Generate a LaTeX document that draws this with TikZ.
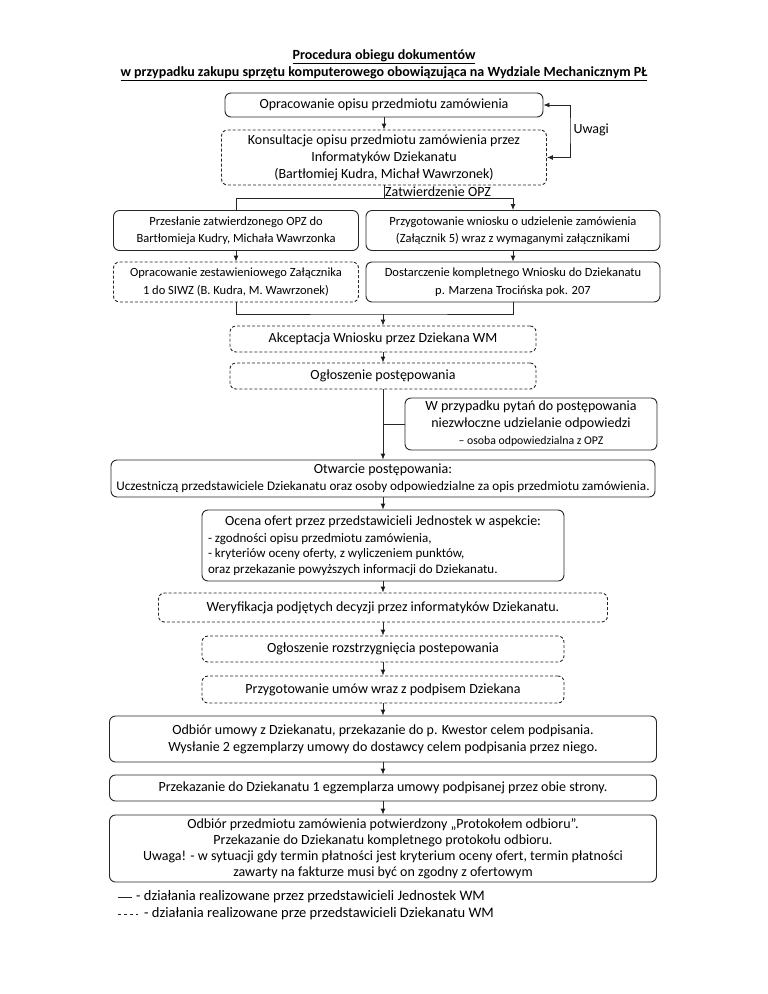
\documentclass[tikz,border=0pt]{standalone}
\usepackage{fontspec}
\setmainfont{Carlito}
\usepackage{tikz}
\usetikzlibrary{arrows.meta}

\newcommand{\bigtxt}{\fontsize{14}{17}\selectfont}
\newcommand{\smltxt}{\fontsize{12.5}{17.5}\selectfont}
\newcommand{\tnytxt}{\fontsize{13}{15.5}\selectfont}

\begin{document}
\begin{tikzpicture}[x=1pt,y=-1pt,>={Latex[length=6pt,width=5pt]},
    box/.style={draw=black!85,line width=0.9pt,rounded corners=6pt,align=center,inner sep=2pt},
    dbox/.style={box,dash pattern=on 3pt off 2pt},
    line/.style={draw=black!85,line width=0.9pt}]

        \useasboundingbox (0,0) rectangle (768,994);

        % title
        \node[font=\bigtxt\bfseries] (tyt1) at (384,57) {\underline{Procedura obiegu dokumentów}};
        \node[font=\bigtxt\bfseries] (tyt2) at (384,74) {\underline{w przypadku zakupu sprzętu komputerowego obowiązująca na Wydziale Mechanicznym PŁ}};

        \node[box,minimum width=318,minimum height=24,font=\bigtxt] (opis) at (384,105) {Opracowanie opisu przedmiotu zamówienia};
        \node[dbox,minimum width=325,minimum height=55,font=\bigtxt] (kons) at (384,157.5) {Konsultacje opisu przedmiotu zamówienia przez\\Informatyków Dziekanatu\\(Bartłomiej Kudra, Michał Wawrzonek)};

        \node[box,minimum width=245,minimum height=40,font=\smltxt] (przes) at (236,230.5) {Przesłanie zatwierdzonego OPZ do\\Bartłomieja Kudry, Michała Wawrzonka};
        \node[box,minimum width=294,minimum height=40,font=\smltxt] (wniosek) at (513,230.5) {Przygotowanie wniosku o udzielenie zamówienia\\(Załącznik 5) wraz z wymaganymi załącznikami};
        \node[dbox,minimum width=245,minimum height=40,font=\smltxt] (zal) at (236,282) {Opracowanie zestawieniowego Załącznika\\1 do SIWZ (B. Kudra, M. Wawrzonek)};
        \node[box,minimum width=294,minimum height=40,font=\smltxt] (dostar) at (513,282) {Dostarczenie kompletnego Wniosku do Dziekanatu\\p. Marzena Trocińska pok. 207};

        \node[dbox,minimum width=306,minimum height=26,font=\bigtxt] (akc) at (383,339) {Akceptacja Wniosku przez Dziekana WM};
        \node[dbox,minimum width=306,minimum height=26,font=\bigtxt] (ogl) at (383,376) {Ogłoszenie postępowania};
        \node[box,minimum width=252,minimum height=52,font=\bigtxt] (pyt) at (531,424) {W przypadku pytań do postępowania\\niezwłoczne udzielanie odpowiedzi\\{\fontsize{11.8}{15}\selectfont – osoba odpowiedzialna z OPZ}};
        \node[box,minimum width=544,minimum height=37,font=\bigtxt] (otw) at (383,478.5) {Otwarcie postępowania:\\{\fontsize{13.2}{17}\selectfont Uczestniczą przedstawiciele Dziekanatu oraz osoby odpowiedzialne za opis przedmiotu zamówienia.}};

        \node[box,minimum width=362,minimum height=71,text width=350,align=flush left,font=\tnytxt] (ocena) at (383,545.5) {\makebox[\linewidth][c]{\bigtxt Ocena ofert przez przedstawicieli Jednostek w aspekcie:}\\[1pt]- zgodności opisu przedmiotu zamówienia,\\- kryteriów oceny oferty, z wyliczeniem punktów,\\oraz przekazanie powyższych informacji do Dziekanatu.};
        \node[dbox,minimum width=449,minimum height=29,font=\bigtxt] (wer) at (383,607.5) {Weryfikacja podjętych decyzji przez informatyków Dziekanatu.};
        \node[dbox,minimum width=362,minimum height=26,font=\bigtxt] (roz) at (383,649) {Ogłoszenie rozstrzygnięcia postepowania};
        \node[dbox,minimum width=362,minimum height=27,font=\bigtxt] (umowy) at (383,689.5) {Przygotowanie umów wraz z podpisem Dziekana};
        \node[box,minimum width=547,minimum height=46,font=\bigtxt] (odbum) at (383,739) {Odbiór umowy z Dziekanatu, przekazanie do p. Kwestor celem podpisania.\\Wysłanie 2 egzemplarzy umowy do dostawcy celem podpisania przez niego.};
        \node[box,minimum width=547,minimum height=26,font=\bigtxt] (przek) at (383,788) {Przekazanie do Dziekanatu 1 egzemplarza umowy podpisanej przez obie strony.};
        \node[box,minimum width=547,minimum height=67,font=\fontsize{14}{16}\selectfont] (odbpr) at (383,848.5) {Odbiór przedmiotu zamówienia potwierdzony „Protokołem odbioru”.\\Przekazanie do Dziekanatu kompletnego protokołu odbioru.\\Uwaga! - w sytuacji gdy termin płatności jest kryterium oceny ofert, termin płatności\\zawarty na fakturze musi być on zgodny z ofertowym};

        % legend
        \node[anchor=west,font=\fontsize{14.5}{17}\selectfont,inner sep=1pt] (leg1) at (135,897) {- działania realizowane przez przedstawicieli Jednostek WM};
        \node[anchor=west,font=\fontsize{14.5}{17}\selectfont,inner sep=1pt] (leg2) at (143,914) {- działania realizowane prze przedstawicieli Dziekanatu WM};
        \draw[line] (leg1.west) ++(-17,0) -- ++(14,0);
        \draw[line,dash pattern=on 3pt off 3pt] (leg2.west) ++(-25,0) -- ++(20,0);

        % connectors
        \coordinate (uwagi) at (570,130);
        \coordinate (zatw) at (384,198);
        \coordinate (join) at (383,314);

        \path[line,->] (opis) edge (kons);
        \draw[line,<->] (kons.east) -| (uwagi) |- (opis.east);
        \node[anchor=west,font=\bigtxt] (uwlbl) at (uwagi) {Uwagi};

        \draw[line] (kons.south) -- (zatw);
        \node[anchor=south west,font=\bigtxt,inner sep=1pt] (zatwlbl) at (zatw) {Zatwierdzenie OPZ};
        \draw[line] (zatw) -| (przes.north);
        \draw[line,->] (zatw) -| (wniosek.north);

        \path[line,->] (przes) edge (zal);
        \path[line,->] (wniosek) edge (dostar);
        \draw[line] (zal.south) |- (join) -| (dostar.south);
        \draw[line,->] (join) -- (akc.north);

        \path[line,->] (akc) edge (ogl);
        \path[line,->] (ogl) edge (otw);
        \draw[line] (pyt.west) -- (pyt.west -| ogl.south);
        \path[line,->] (otw) edge (ocena);
        \path[line,->] (ocena) edge (wer);
        \path[line,->] (wer) edge (roz);
        \path[line,->] (roz) edge (umowy);
        \path[line,->] (umowy) edge (odbum);
        \path[line,->] (odbum) edge (przek);
        \path[line,->] (przek) edge (odbpr);

    \end{tikzpicture}
\end{document}
